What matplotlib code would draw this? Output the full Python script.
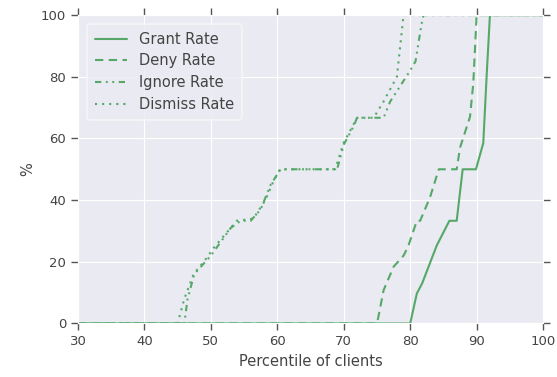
import matplotlib
matplotlib.use("Agg")
import matplotlib.pyplot as plt
import seaborn as sns

sns.set_style("darkgrid")
plt.rcParams['font.family'] = ['DejaVu Sans']

green = "#55A868"

grant_x = [30, 80, 81, 81.8, 84, 85.9, 87, 87.9, 89.9, 91, 91.5, 92, 100]
grant_y = [0, 0, 9.7, 13, 25.3, 33.3, 33.3, 50, 50, 58.5, 80, 100, 100]

deny_x = [30, 75, 75.2, 76, 77.5, 79, 79.7, 81, 81.5, 83, 84.3, 87, 87.5, 89, 89.5, 90, 100]
deny_y = [0, 0, 2, 10.8, 18.4, 22, 25, 33.3, 33.3, 41, 50, 50, 57, 67, 78, 100, 100]

ignore_x = [30, 46, 46.5, 47.5, 50, 51, 53, 54.5, 56, 57.5, 59, 60.5, 69, 70, 71.5, 72, 76, 77, 80, 80.8, 81.7, 82, 100]
ignore_y = [0, 0, 8, 16, 22, 25, 31, 33.3, 33.3, 37, 45, 50, 50, 58, 64, 66.7, 66.7, 72, 82, 85, 97, 100, 100]

dismiss_x = [30, 45, 46, 47.4, 49.1, 50.6, 52.6, 53.9, 56.4, 58.2, 59.4, 60.4, 68.7, 70, 72, 74.5, 76, 78, 79, 100]
dismiss_y = [0, 0, 8, 16, 20.5, 25, 30, 33.3, 34, 40, 46, 50, 50, 58.6, 66.7, 66.7, 72, 80, 100, 100]

fig = plt.figure(figsize=(5.57, 3.77), dpi=100)
ax = fig.add_axes([0.140, 0.142, 0.835, 0.818])

lw = 1.5
ax.plot(grant_x, grant_y, color=green, lw=lw, ls='-', label='Grant Rate')
ax.plot(deny_x, deny_y, color=green, lw=lw, ls=(0, (4, 2.6)), label='Deny Rate')
ax.plot(ignore_x, ignore_y, color=green, lw=lw, ls=(0, (3, 2.2, 0.9, 2.2, 0.9, 2.2)), label='Ignore Rate')
ax.plot(dismiss_x, dismiss_y, color=green, lw=lw, ls=(0, (1, 2.4)), label='Dismiss Rate')

ax.set_xlim(30, 100)
ax.set_ylim(0, 100)
ax.set_xticks([30, 40, 50, 60, 70, 80, 90, 100])
ax.set_yticks([0, 20, 40, 60, 80, 100])
ax.tick_params(axis='both', which='major', direction='out', length=5, width=1,
               color='#555555', labelsize=9.5, labelcolor='#444444',
               top=True, right=True, bottom=True, left=True)
ax.set_xlabel('Percentile of clients', fontsize=10.5, color='#444444')
ax.set_ylabel('%', fontsize=10.5, color='#444444')

leg = ax.legend(loc='upper left', fontsize=10.5, frameon=True, handlelength=2.2,
                borderpad=0.55, labelspacing=0.45, bbox_to_anchor=(0.004, 0.995))
leg.get_frame().set_facecolor('#EAEAF2')
leg.get_frame().set_edgecolor('#F8F8F8')
leg.get_frame().set_linewidth(1.2)
for t in leg.get_texts():
    t.set_color('#444444')

fig.savefig('out.png', dpi=100)
